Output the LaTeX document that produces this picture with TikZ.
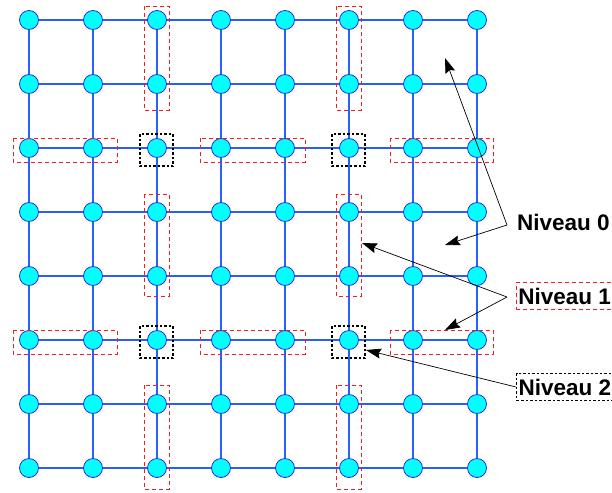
\documentclass[tikz,border=0pt]{standalone}
\usepackage{fontspec}
\setmainfont{Liberation Sans}
\usetikzlibrary{calc,arrows.meta}
\definecolor{gridblue}{RGB}{40,95,255}
\definecolor{nodeborder}{RGB}{45,45,225}
\definecolor{nodecyan}{RGB}{0,255,255}
\definecolor{boxred}{RGB}{240,30,30}
\tikzset{
  vtx/.style={circle, minimum size=19pt, inner sep=0pt, fill=nodecyan, draw=nodeborder, line width=0.8pt},
  edge/.style={gridblue, line width=1.6pt},
  redbox/.style={boxred, line width=0.9pt, dash pattern=on 4pt off 3pt},
  blackbox/.style={black, line width=1.1pt, dash pattern=on 2.5pt off 2pt},
  lbl/.style={anchor=west, font=\fontsize{22.5}{25}\selectfont\bfseries, text height=16.5pt, text depth=0pt, inner xsep=2pt, inner ysep=5.5pt},
  arr/.style={black, line width=0.7pt, -{Stealth[length=15pt,width=10pt,inset=2pt]}}
}
\begin{document}
\begin{tikzpicture}[x=1pt,y=-1pt]
\useasboundingbox (0,0) rectangle (612,492);
% nodes
\foreach \r in {0,...,7}{
  \foreach \c in {0,...,7}{
    \node[vtx] (n-\r-\c) at ({29+64*\c},{20+64*\r}) {};
  }
}
% edges
\foreach \r in {0,...,7}{
  \foreach \c [evaluate=\c as \d using int(\c+1)] in {0,...,6}{
    \draw[edge] (n-\r-\c) -- (n-\r-\d);
    \draw[edge] (n-\c-\r) -- (n-\d-\r);
  }
}
% level-1 vertical boxes
\foreach \c in {2,5}{
  \draw[redbox] ($(n-0-\c)+(-13,-14)$) rectangle ($(n-1-\c)+(12,26)$);
  \draw[redbox] ($(n-3-\c)+(-13,-18)$) rectangle ($(n-4-\c)+(12,20)$);
  \draw[redbox] ($(n-6-\c)+(-13,-19)$) rectangle ($(n-7-\c)+(12,21)$);
}
% level-1 horizontal boxes
\foreach \r in {2,5}{
  \draw[redbox] ($(n-\r-0)+(-16,-10)$) rectangle ($(n-\r-1)+(24,14)$);
  \draw[redbox] ($(n-\r-3)+(-21,-10)$) rectangle ($(n-\r-4)+(20,14)$);
  \draw[redbox] ($(n-\r-6)+(-23,-10)$) rectangle ($(n-\r-7)+(16,14)$);
}
% level-2 boxes
\foreach \r in {2,5}{
  \foreach \c in {2,5}{
    \draw[blackbox] ($(n-\r-\c)+(-17,-14)$) rectangle ($(n-\r-\c)+(16,18)$);
  }
}
% labels
\node[lbl] (l0) at (515,222) {Niveau 0};
\node[lbl, draw=boxred, redbox] (l1) at (516,296) {\color{black}Niveau 1};
\node[lbl, draw=black, blackbox] (l2) at (516,387) {Niveau 2};
% arrows
\coordinate (j0) at (507,225);
\coordinate (t0a) at (445,58);
\coordinate (t0b) at (445,245);
\draw[arr] (j0) -- (t0a);
\draw[arr] (j0) -- (t0b);
\coordinate (j1) at (507,297);
\coordinate (t1a) at (362,243);
\coordinate (t1b) at (445,330);
\draw[arr] (j1) -- (t1a);
\draw[arr] (j1) -- (t1b);
\draw[arr] (l2.west) -- (366,350);
\end{tikzpicture}
\end{document}
